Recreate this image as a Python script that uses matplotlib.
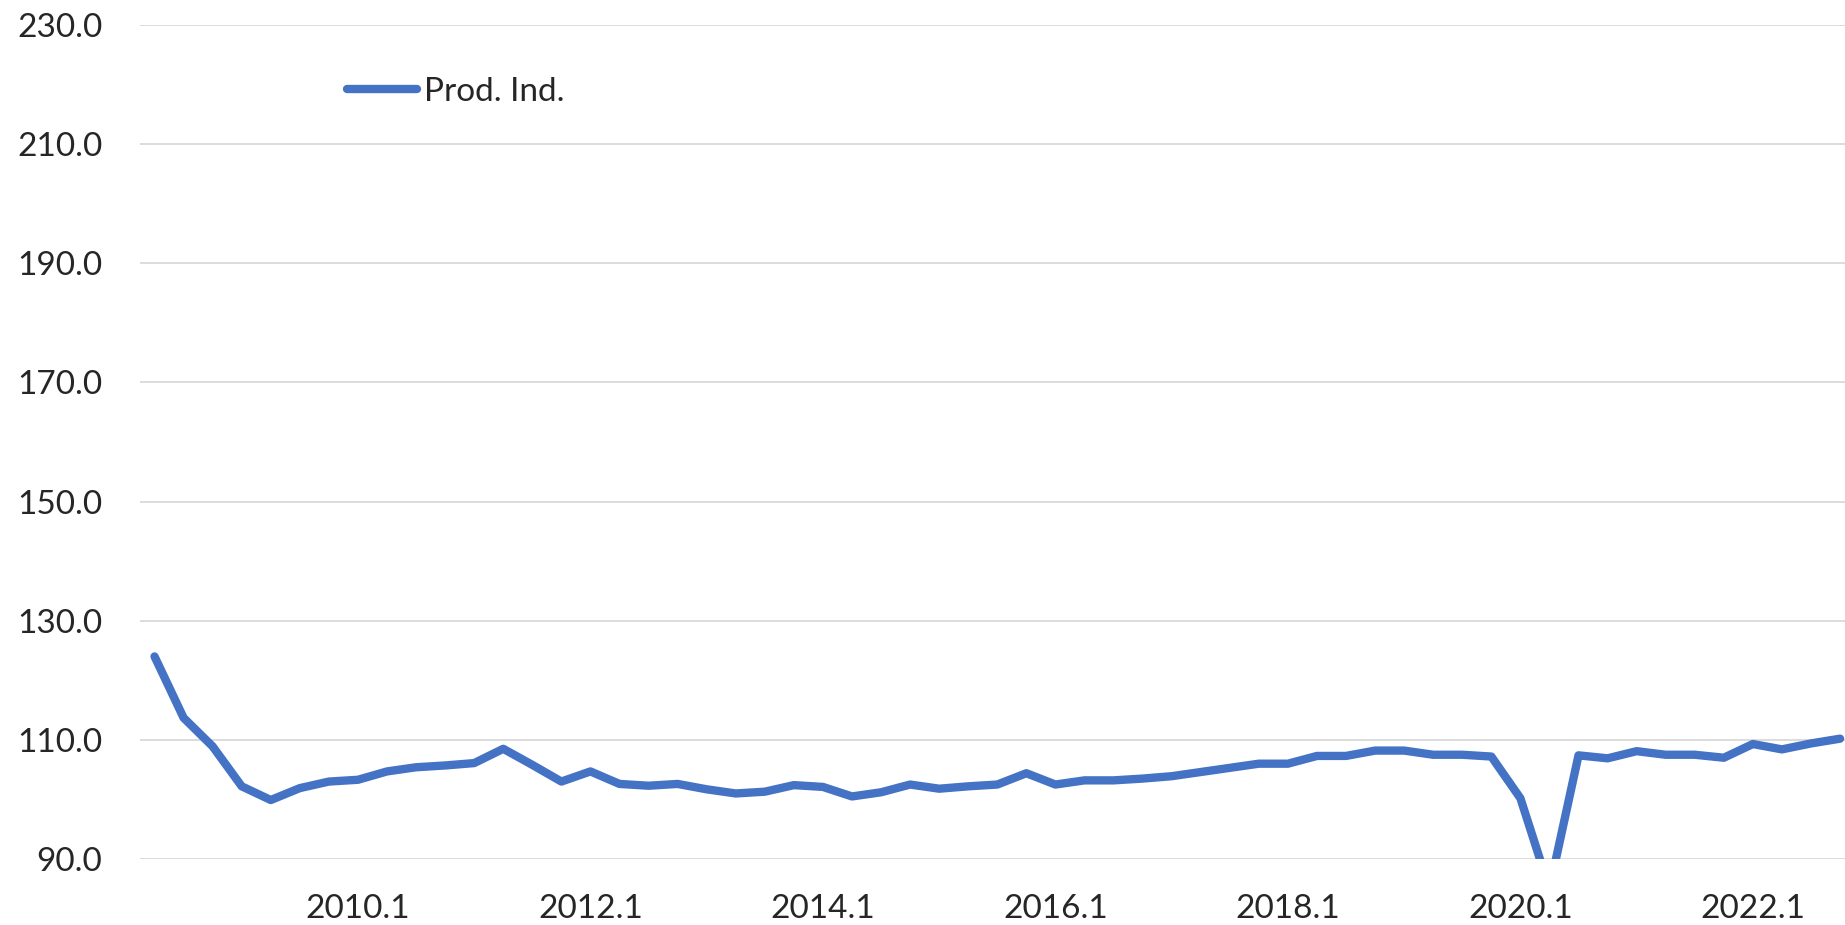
import matplotlib
matplotlib.use("Agg")
import matplotlib.pyplot as plt

# serie trimestral, de 2008.2 a 2022.4
primeiro_ano = 2008
primeiro_tri = 2
prod_ind = [
    124.0, 113.7, 108.9, 102.2, 99.9, 101.9, 103.0, 103.3, 104.7, 105.4,
    105.7, 106.1, 108.5, 105.8, 103.0, 104.7, 102.6, 102.3, 102.6, 101.7,
    101.0, 101.3, 102.4, 102.1, 100.5, 101.2, 102.5, 101.8, 102.2, 102.5,
    104.4, 102.5, 103.2, 103.2, 103.5, 103.9, 104.6, 105.3, 106.0, 106.0,
    107.3, 107.3, 108.2, 108.2, 107.5, 107.5, 107.2, 100.2, 85.0, 107.4,
    106.9, 108.1, 107.5, 107.5, 107.0, 109.3, 108.4, 109.4, 110.2,
]
rotulos_y = [90, 110, 130, 150, 170, 190, 210, 230]

periodos = []
ano, tri = primeiro_ano, primeiro_tri
for _ in prod_ind:
    periodos.append(f"{ano}.{tri}")
    tri += 1
    if tri > 4:
        tri = 1
        ano += 1

# so aparecem os rotulos de 8 em 8 trimestres (2010.1, 2012.1, ...)
idx_rotulos = [i for i, p in enumerate(periodos) if p.endswith(".1") and int(p[:4]) % 2 == 0]

plt.rcParams['font.family'] = ['Lato', 'DejaVu Sans']

fig = plt.figure(figsize=(18.45, 9.25), dpi=100)
ax = fig.add_axes([140 / 1845, 1 - 859 / 925, 1 - 140 / 1845, (859 - 25) / 925])

x = list(range(len(prod_ind)))
ax.plot(x, prod_ind, color='#4472C4', linewidth=6, solid_capstyle='round',
        solid_joinstyle='round', label='Prod. Ind.')

ax.set_xlim(-0.5, 58.17)
ax.set_ylim(90, 230)
ax.set_yticks(rotulos_y)
ax.set_yticklabels([f"{v:.1f}" for v in rotulos_y])
ax.set_xticks(idx_rotulos)
ax.set_xticklabels([periodos[i] for i in idx_rotulos])

ax.grid(axis='y', color='#D9D9D9', linewidth=1.3)
ax.set_axisbelow(True)
for lado in ax.spines.values():
    lado.set_visible(False)
ax.tick_params(axis='both', length=0, labelsize=24, labelcolor='#262626')
ax.tick_params(axis='y', pad=27)
ax.tick_params(axis='x', pad=25)

fig.legend(loc='center left', bbox_to_anchor=(347 / 1845, 1 - 92 / 925),
           frameon=False, fontsize=24, handlelength=2.1, handletextpad=0.2,
           borderpad=0, borderaxespad=0, labelcolor='#262626')

fig.savefig('out.png', dpi=100)
